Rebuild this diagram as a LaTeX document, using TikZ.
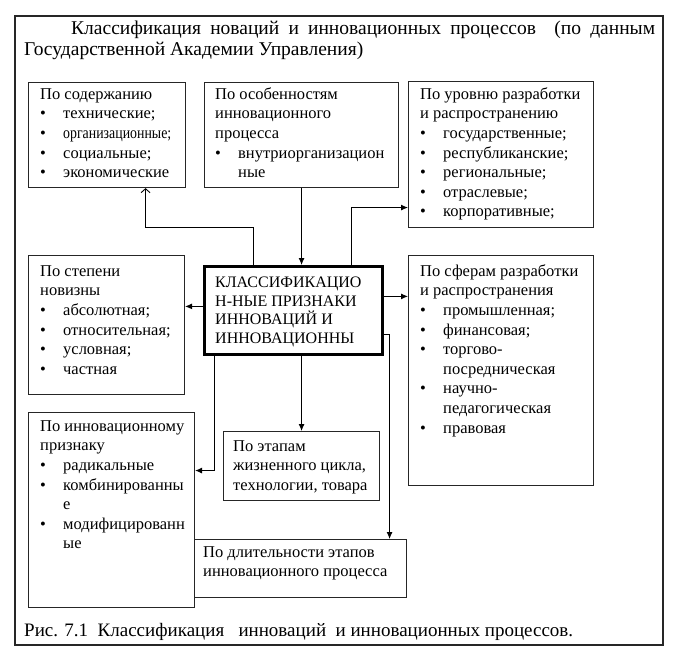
\documentclass[tikz,border=0pt]{standalone}
\usepackage{fontspec}
\usepackage{graphicx}
\setmainfont{Liberation Serif}
\usetikzlibrary{arrows.meta,calc}

\newcommand{\bul}{\makebox[23pt][l]{\textbullet}}
\newcommand{\cont}{\hspace*{23pt}}

\tikzset{
  blk/.style={draw=black!85, line width=1.1pt, inner sep=0pt, anchor=north west},
  txt/.style={inner sep=0pt, anchor=north west, align=left, font=\fontsize{16.5}{19.6}\selectfont},
  arr/.style={line width=0.9pt, -{Latex[length=7pt,width=6pt]}},
  arrB/.style={line width=0.9pt, -{Straight Barb[length=4pt,width=9pt]}}
}

\begin{document}
\begin{tikzpicture}[x=1pt, y=-1pt]
  \useasboundingbox (0,0) rectangle (696,656);

  % Frame, title and caption
  \draw[draw=black!85, line width=1.1pt] (15,16) rectangle (663,645);
  \node[inner sep=0pt, anchor=north west, align=left, font=\fontsize{19.5}{21}\selectfont] (title) at (24,20)
    {\strut\hspace*{47pt}\makebox[584pt][s]{Классификация новаций и инновационных процессов\ \ (по данным}\\
     Государственной Академии Управления)};
  \node[inner sep=0pt, anchor=north west, font=\fontsize{19}{21}\selectfont] (caption) at (24,622)
    {\strut Рис. 7.1\ \ Классификация\ \ \ инноваций\ \ и инновационных процессов.};

  % Boxes
  \node[blk, minimum width=157pt, minimum height=105pt] (soder) at (28,82) {};
  \node[blk, minimum width=194pt, minimum height=105pt] (osob) at (204,82) {};
  \node[blk, minimum width=185pt, minimum height=146pt] (uroven) at (408,81) {};
  \node[blk, minimum width=156pt, minimum height=139pt] (stepen) at (28,255) {};
  \node[blk, line width=2.8pt, draw=black, minimum width=178pt, minimum height=88pt] (klass) at (203,265) {};
  \node[blk, minimum width=185pt, minimum height=230pt] (sfera) at (408,255) {};
  \node[blk, minimum width=166pt, minimum height=195pt] (innov) at (28,412) {};
  \node[blk, minimum width=156pt, minimum height=69pt] (etapy) at (223,431) {};
  \node[blk, fill=white, minimum width=212pt, minimum height=58pt] (dlit) at (194,539) {};

  % Texts
  \node[txt] (soder-t) at ($(soder.north west)+(12,3.3)$)
    {\strut По содержанию\\ \bul технические;\\ \bul \scalebox{0.84}[1]{организационные;}\\ \bul социальные;\\ \bul экономические};
  \node[txt] (osob-t) at ($(osob.north west)+(11,3.3)$)
    {\strut По особенностям\\ инновационного\\ процесса\\ \bul внутриорганизацион\\ \cont ные};
  \node[txt] (uroven-t) at ($(uroven.north west)+(12,4.3)$)
    {\strut По уровню разработки\\ и распространению\\ \bul государственные;\\ \bul республиканские;\\ \bul региональные;\\ \bul отраслевые;\\ \bul корпоративные;};
  \node[txt] (stepen-t) at ($(stepen.north west)+(12,7.3)$)
    {\strut По степени\\ новизны\\ \bul абсолютная;\\ \bul относительная;\\ \bul условная;\\ \bul частная};
  \node[txt, font=\fontsize{16}{18.5}\selectfont] (klass-t) at ($(klass.north west)+(12,9.5)$)
    {\strut КЛАССИФИКАЦИО\\ Н-НЫЕ ПРИЗНАКИ\\ ИННОВАЦИЙ И\\ ИННОВАЦИОННЫ};
  \node[txt] (sfera-t) at ($(sfera.north west)+(12,7.3)$)
    {\strut По сферам разработки\\ и распространения\\ \bul промышленная;\\ \bul финансовая;\\ \bul торгово-\\ \cont посредническая\\ \bul научно-\\ \cont педагогическая\\ \bul правовая};
  \node[txt] (innov-t) at ($(innov.north west)+(12,5.3)$)
    {\strut По инновационному\\ признаку\\ \bul радикальные\\ \bul комбинированны\\ \cont е\\ \bul модифицированн\\ \cont ые};
  \node[txt] (etapy-t) at ($(etapy.north west)+(10,6.3)$)
    {\strut По этапам\\ жизненного цикла,\\ технологии, товара};
  \node[txt] (dlit-t) at ($(dlit.north west)+(9,4.3)$)
    {\strut По длительности этапов\\ инновационного процесса};

  % Connectors
  \coordinate (l1) at ([yshift=4pt]klass.west);
  \coordinate (r1) at ([yshift=14pt]klass.east);
  \draw[arrB] ([xshift=-40pt]klass.north) -- ++(0,-38) -| ([xshift=38.5pt]soder.south);
  \draw[arr] (osob.south) -- (osob.south |- klass.north);
  \draw[arr] ([xshift=58pt]klass.north) |- ([yshift=-53pt]uroven.west);
  \draw[arr] (l1) -- (l1 -| stepen.east);
  \draw[arr] (r1) -- (r1 -| sfera.west);
  \draw[arr] ([xshift=-79pt]klass.south) |- ([yshift=39.5pt]innov.east);
  \draw[arr] (klass.south -| etapy.north) -- (etapy.north);
  \draw[arr] ([yshift=-24pt]klass.east) -| ([xshift=89pt]dlit.north);
\end{tikzpicture}
\end{document}
